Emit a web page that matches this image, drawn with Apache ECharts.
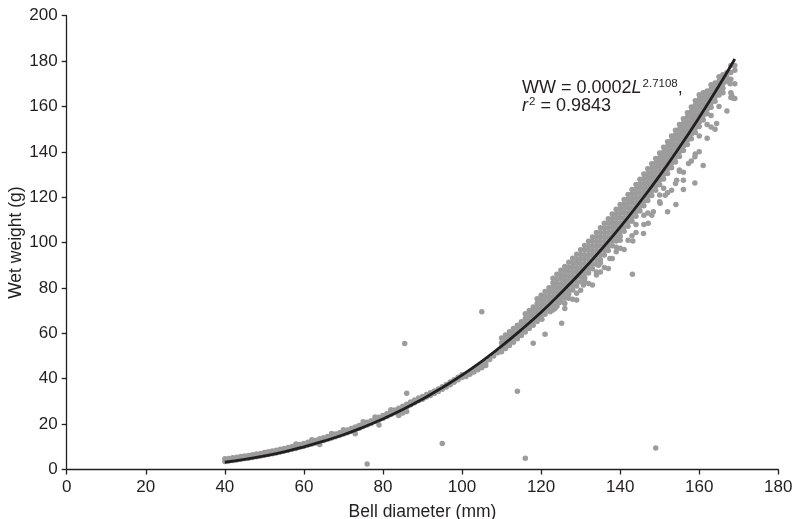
<!DOCTYPE html>
<html>
<head>
<meta charset="utf-8">
<script src="https://cdn.jsdelivr.net/npm/echarts@6/dist/echarts.min.js"></script>
<style>html,body{margin:0;padding:0;background:#fff}#c{width:795px;height:519px}</style>
</head>
<body>
<div id="c"></div>
<script>
// Fitted power curve
const fitX = [40,45,50,55,60,65,70,75,80,85,90,95,100,105,110,115,120,125,130,135,140,145,150,155,160,165,169];
const fitY = [3.2,4.45,6.0,7.8,10.0,12.5,15.3,18.6,22.3,26.4,31.0,36.1,41.6,47.7,54.4,61.6,69.3,77.8,86.8,96.5,106.8,117.9,129.5,142.0,155.2,169.1,180.9];

// Dense band of observations: [bell diameter, wet weights...]
const bandColumns = [
[40,3.5,4.7],[41,3.7,4.9],[42,4.0,5.2],[43,4.2,5.4],[44,4.5,5.7],[45,4.8,5.9],[46,5.0,6.2],[47,5.3,6.5],[48,5.6,6.8],[49,5.9,7.1],
[50,6.3,7.5],[51,6.6,7.8],[52,6.9,8.1],[53,7.3,8.5],[54,7.7,8.9],[55,8.1,9.3],[56,8.5,9.7],[57,8.9,10.1],[58,9.3,10.5,11.2],[59,9.8,11.0],
[60,10.3,11.5],[61,10.8,12.0],[62,11.2,12.4,13.1],[63,11.7,12.9],[64,12.3,13.5,11.0],[65,12.8,14.0],[66,13.3,14.5],[67,13.9,15.1,15.9],[68,14.4,15.6],[69,15.0,16.2],
[70,15.6,16.8,17.5],[71,16.2,17.4],[72,16.9,18.1],[73,17.5,18.7,15.8],[74,18.2,19.4],[75,18.9,20.1,21.0],[76,19.6,20.8],[77,20.3,21.5],[78,21.1,22.3,23.1],[79,21.8,23.0,19.6],
[80,22.6,23.8],[81,23.4,24.6],[82,24.2,25.4,26.3],[83,25.0,26.2],[84,25.8,27.0,23.8],[85,26.7,27.9,24.9],[86,27.6,28.8,25.6],[87,28.5,29.7],[88,29.4,30.6],[89,30.3,31.5],
[90,31.0,32.2],[91,31.9,33.0],[92,32.6,33.8],[93,33.5,34.6],[94,34.4,35.5],[95,35.4,36.5],[96,36.4,37.5],[97,37.4,38.6],[98,38.4,39.6],[99,39.5,40.7],
[100,40.5,41.8],[101,42.0,41.0],[102,43.2,42.0],[103,44.2,43.0],[104,45.2,44.0],[105,46.2,44.8],[106,47.2,45.8],[107,48.5],[108,50.0],[109,51.5],
[110,51.9,53.9,55.9,57.9],[111,53.3,55.3,57.3,59.3],[112,54.7,56.7,58.7,60.7],[113,56.1,58.1,60.1,62.1],[114,57.6,59.6,61.6,63.6],[115,59.1,61.1,63.1,65.1],
[116,60.6,62.6,64.6,66.6,68.6],[117,62.1,64.1,66.1,68.1,70.1],[118,63.6,65.6,67.6,69.6,71.6],
[119,65.2,67.2,69.2,71.2,73.2,75.2],[120,66.8,68.8,70.8,72.8,74.8,76.8],[121,68.4,70.4,72.4,74.4,76.4,78.4],[122,70.1,72.1,74.1,76.1,78.1,80.1],
[123,70.3,72.3,74.3,76.3,78.3,80.3,82.3,84.3],[124,72,74,76,78,80,82,84,86],[125,73.8,75.8,77.8,79.8,81.8,83.8,85.8,87.8],
[126,75.5,77.5,79.5,81.5,83.5,85.5,87.5,89.5],[127,77.3,79.3,81.3,83.3,85.3,87.3,89.3,91.3],[128,79.1,81.1,83.1,85.1,87.1,89.1,91.1,93.1],
[129,80.9,82.9,84.9,86.9,88.9,90.9,92.9,94.9],[130,82.8,84.8,86.8,88.8,90.8,92.8,94.8,96.8],[131,84.7,86.7,88.7,90.7,92.7,94.7,96.7,98.7],
[132,86.6,88.6,90.6,92.6,94.6,96.6,98.6,100.6],[133,88.5,90.5,92.5,94.5,96.5,98.5,100.5,102.5],[134,90.5,92.5,94.5,96.5,98.5,100.5,102.5,104.5],
[135,92.5,94.5,96.5,98.5,100.5,102.5,104.5,106.5],[136,94.5,96.5,98.5,100.5,102.5,104.5,106.5,108.5],[137,96.5,98.5,100.5,102.5,104.5,106.5,108.5,110.5],
[138,98.6,100.6,102.6,104.6,106.6,108.6,110.6,112.6],[139,100.7,102.7,104.7,106.7,108.7,110.7,112.7,114.7],[140,102.8,104.8,106.8,108.8,110.8,112.8,114.8,116.8],
[141,105,107,109,111,113,115,117,119],[142,107.2,109.2,111.2,113.2,115.2,117.2,119.2,121.2],[143,109.4,111.4,113.4,115.4,117.4,119.4,121.4,123.4],
[144,111.6,113.6,115.6,117.6,119.6,121.6,123.6,125.6],[145,113.9,115.9,117.9,119.9,121.9,123.9,125.9,127.9],[146,116.2,118.2,120.2,122.2,124.2,126.2,128.2,130.2],
[147,118.5,120.5,122.5,124.5,126.5,128.5,130.5,132.5],[148,120.8,122.8,124.8,126.8,128.8,130.8,132.8,134.8],[149,123.1,125.1,127.1,129.1,131.1,133.1,135.1,137.1],
[150,125.5,127.5,129.5,131.5,133.5,135.5,137.5,139.5],[151,128,130,132,134,136,138,140,142],[152,130.5,132.5,134.5,136.5,138.5,140.5,142.5,144.5],
[153,133,135,137,139,141,143,145,147],[154,135.5,137.5,139.5,141.5,143.5,145.5,147.5,149.5],[155,138,140,142,144,146,148,150,152],
[156,140.6,142.6,144.6,146.6,148.6,150.6,152.6,154.6],[157,143.2,145.2,147.2,149.2,151.2,153.2,155.2,157.2],[158,145.8,147.8,149.8,151.8,153.8,155.8,157.8,159.8],
[159,148.5,150.5,152.5,154.5,156.5,158.5,160.5,162.5],[160,151.2,153.2,155.2,157.2,159.2,161.2,163.2,165.2],
[161,154,156,158,160,162,164,166],[162,156.8,158.8,160.8,162.8,164.8,166.8],[163,159.6,161.6,163.6,165.6,167.6,169.6],
[164,162.3,164.3,166.3,168.3,170.3],[165,165.1,167.1,169.1,171.1,173.1],[166,166,168,170,172,174],[167,171,173,175],
[168,164,166,172,175,178],[169,163.5,170,176,178]
];

// Scattered observations away from the band
const outliers = [
[105,69.5],[85.5,55.5],[114,34.5],[116,5],[149,9.5],[95,11.5],[76,2.4],[86,33.6],
[118,55.6],[121,59.6],[120.2,66.2],[125.2,64.5],[122.3,69.5],[123.5,71],[126,73.2],[124.5,73.5],
[129,74.7],[129,77.7],[130.7,81.3],[133,81.3],[134,85.7],[134.5,90],[137,88.6],[137.4,93],
[141,97],[143.1,86],[143.2,100.7],[145.9,104],[147.1,108.5],[148.4,113.6],[150.1,117.3],[151.4,120.9],
[152,113.6],[153,123.1],[154.1,116.8],[154.3,127.5],[156,123.4],[156,127.5],[157.3,134.9],[158.9,126.3],
[158.9,137.8],[161,134],[164.4,152.5],[167,158],[167.8,170],[168.2,165],[168.6,163.6],
[127,79],[131,84],[135,91],[139,98],[140,101],[144,108],[146,112],[150,121],[155,132],[160,147],[162,152],[163,156],[165,160],
[126,71],[128,75],[130,79],[132,82],[134,87],[136,89],[138,93],[140,97.5],[142,101],[144,104.5],
[146,108],[148,112],[150,118],[152,122],[154,126],[156,131],[158,136],[160,140],[162,146],[164,150],
[127,75.5],[131,82.5],[135,87],[139,96],[143,103],[147,113],[151,124],[155,131.5],[159,139],[163,151]
];

const xAxisName = 'Bell diameter (mm)';
const yAxisName = 'Wet weight (g)';

const pts = [];
bandColumns.forEach(function (col) {
  for (let i = 1; i < col.length; i++) pts.push([col[0], col[i]]);
});
outliers.forEach(function (p) { pts.push(p); });
const fitData = fitX.map(function (x, i) { return [x, fitY[i]]; });

const FONT = "'Liberation Sans', Arial, sans-serif";
const INK = '#231f20';

const chart = echarts.init(document.getElementById('c'), null, {renderer: 'canvas'});
chart.setOption({
  backgroundColor: '#ffffff',
  animation: false,
  grid: {left: 66.7, right: 16.7, top: 15.7, bottom: 49.5, containLabel: false, outerBoundsMode: 'none'},
  xAxis: {
    type: 'value', min: 0, max: 180, interval: 20,
    name: xAxisName, nameLocation: 'middle', nameGap: 34, nameMoveOverlap: false,
    nameTextStyle: {fontFamily: FONT, fontSize: 17.5, color: INK},
    axisLine: {show: true, onZero: false, lineStyle: {color: INK, width: 1.3}},
    axisTick: {show: true, inside: false, length: 5, lineStyle: {color: INK, width: 1.3}},
    axisLabel: {fontFamily: FONT, fontSize: 17, color: INK, margin: 9},
    splitLine: {show: false}
  },
  yAxis: {
    type: 'value', min: 0, max: 200, interval: 20,
    name: yAxisName, nameLocation: 'middle', nameGap: 42, nameRotate: 90, nameMoveOverlap: false,
    nameTextStyle: {fontFamily: FONT, fontSize: 17.5, color: INK},
    axisLine: {show: true, onZero: false, lineStyle: {color: INK, width: 1.3}},
    axisTick: {show: true, inside: false, length: 5, lineStyle: {color: INK, width: 1.3}},
    axisLabel: {fontFamily: FONT, fontSize: 17, color: INK, margin: 9},
    splitLine: {show: false}
  },
  series: [
    {
      type: 'scatter', data: pts, symbol: 'circle', symbolSize: 5.5,
      itemStyle: {color: '#9c9c9c', opacity: 1}, z: 2, silent: true
    },
    {
      type: 'line', data: fitData, smooth: true, showSymbol: false, symbol: 'none',
      lineStyle: {color: INK, width: 2.8}, z: 3, silent: true
    }
  ],
  graphic: [
    {
      type: 'text', left: 522, top: 78, z: 10,
      style: {
        text: '{a|WW = 0.0002}{i|L}{s|2.7108}{a|,}',
        rich: {
          a: {fontFamily: FONT, fontSize: 18, fill: INK, lineHeight: 20},
          i: {fontFamily: FONT, fontSize: 18, fill: INK, fontStyle: 'italic', lineHeight: 20},
          s: {fontFamily: FONT, fontSize: 11.5, fill: INK, verticalAlign: 'top', lineHeight: 20, padding: [0, 0, 0, 1]}
        }
      }
    },
    {
      type: 'text', left: 522, top: 96, z: 10,
      style: {
        text: '{i|r}{s|2}{a| = 0.9843}',
        rich: {
          a: {fontFamily: FONT, fontSize: 18, fill: INK, lineHeight: 20},
          i: {fontFamily: FONT, fontSize: 18, fill: INK, fontStyle: 'italic', lineHeight: 20},
          s: {fontFamily: FONT, fontSize: 11.5, fill: INK, verticalAlign: 'top', lineHeight: 20, padding: [0, 0, 0, 1]}
        }
      }
    }
  ]
});
</script>
</body>
</html>
